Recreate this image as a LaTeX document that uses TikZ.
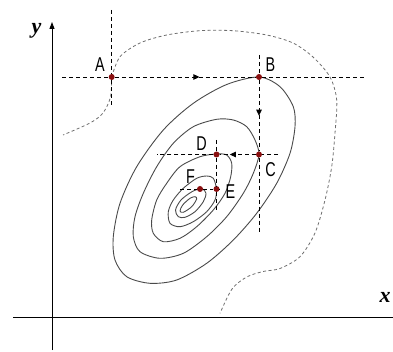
\documentclass[tikz,border=0pt]{standalone}
\usepackage{fontspec}
\setmainfont{Liberation Sans}
\newfontfamily\axisfont{Liberation Serif}
\usetikzlibrary{arrows.meta,decorations.markings}
\definecolor{ptred}{HTML}{8A0F0F}
\definecolor{level}{HTML}{4A4A4A}
\definecolor{muted}{HTML}{6E6E6E}
\newcommand{\ptname}[1]{\scalebox{.72}[1]{#1}}
\tikzset{>=Triangle,
  axis/.style={draw=black,line width=.9pt},
  guide/.style={draw=black,line width=.8pt,dash pattern=on 4pt off 3pt},
  contour/.style={draw=level,line width=.9pt},
  isoline/.style={draw=muted,line width=.8pt,dash pattern=on 3pt off 2.5pt},
  point/.style={circle,fill=ptred,inner sep=0pt,minimum size=6pt},
  ptlabel/.style={font=\fontsize{20}{20}\selectfont,inner sep=0pt},
  axlabel/.style={font=\axisfont\bfseries\itshape\fontsize{22}{22}\selectfont,inner sep=0pt},
  flow/.style={postaction={decorate},decoration={markings,
    mark=at position #1 with {\arrow{Triangle[length=6pt,width=5.5pt]}}}}}

\begin{document}
\begin{tikzpicture}[x=1pt,y=-1pt]
\useasboundingbox (0,0) rectangle (393,352);
% axes
\coordinate (o) at (52,317);
\coordinate (ytop) at (52,22);\coordinate (ybot) at (52,350);
\coordinate (xleft) at (13,317);\coordinate (xright) at (393,317);
\draw[axis,-{Triangle[length=7pt,width=5pt]}] (ybot)--(ytop);
\draw[axis] (xleft)--(xright);
\node[axlabel] (ylab) at (36.5,31) {y};
\node[axlabel] (xlab) at (385,297) {x};
% level sets
\draw[contour] plot[smooth cycle] coordinates {(259,77) (280,86.7) (293.3,106.7) (295,126.7)
  (290,153.3) (276.7,183.3) (256.7,213.3) (233.3,240) (206.7,263.3) (176.7,280) (150,283.3)
  (126.7,276.7) (115,260) (113.3,236.7) (120,203.3) (136.7,166.7) (163.3,130) (193.3,103.3)
  (226.7,84.5)};
\draw[contour] plot[smooth cycle] coordinates {(216.7,119.3) (233.3,120) (246.7,126.7) (255,140)
  (259,154.5) (253.3,173.3) (243.3,193.3) (226.7,216.7) (206.7,236.7) (183.3,253.3) (160,258.3)
  (140,251.7) (133.3,236.7) (135,216.7) (143.3,193.3) (156.7,166.7) (173.3,143.3) (193.3,126.7)};
\draw[contour] plot[smooth cycle] coordinates {(216.5,154) (226.7,155) (231.7,163.3) (230.7,176.7)
  (225,193.3) (213.3,210) (196.7,226.7) (180,238.3) (163.3,241.7) (153.3,233.3) (151.7,220)
  (156.7,200) (166.7,183.3) (180,166.7) (200,156.7)};
\draw[contour] plot[smooth cycle] coordinates {(206.7,176) (213.3,178.3) (216.5,189) (215,200)
  (206.7,211.7) (193.3,221.7) (180,226.7) (170,223.3) (168.3,211.7) (173.3,200) (183.3,188.3)
  (196.7,178.3)};
\draw[contour] plot[smooth cycle] coordinates {(201.7,188.5) (206,193.3) (203.3,201.7) (195,211.7)
  (185,217.3) (178.3,216.7) (175.5,210) (181,200) (192,191.7)};
\draw[contour] plot[smooth cycle] coordinates {(195,196.7) (196.7,199) (191.7,206.7) (183.3,212.3)
  (180,211) (182.7,205) (190,198.3)};
% level set through A
\coordinate (isoEnd) at (220,313.3);\coordinate (isoLow) at (63,135);
\draw[isoline] plot[smooth] coordinates {(111.7,77) (120,56.7) (140,43) (166.7,35) (200,30.7)
  (233,30.7) (266.7,35) (293,43) (313,57) (330,77) (336.7,100) (335,133) (331.7,166.7) (325,200)
  (315,233) (300,256.7) (280,268.5) (263,271.5) (246.7,277) (232,289) (isoEnd)};
\draw[isoline] plot[smooth] coordinates {(111.7,77) (110.5,97) (103,113) (90,123) (isoLow)};
% search path
\node[point] (A) at (111.7,77) {};
\node[point] (B) at (259,77) {};
\node[point] (C) at (259,154.5) {};
\node[point] (D) at (216.5,154.5) {};
\node[point] (E) at (216.5,189) {};
\node[point] (F) at (200,189) {};
\coordinate (aTop) at (111.7,10);\coordinate (aBot) at (111.7,107);
\coordinate (aLeft) at (62,77);\coordinate (bRight) at (367,77);
\coordinate (bTop) at (259,55);\coordinate (cBot) at (259,233);
\coordinate (cRight) at (278,154.5);\coordinate (dLeft) at (157,154.5);
\coordinate (dTop) at (216.5,140);\coordinate (dBot) at (216.5,213);
\coordinate (fLeft) at (180,189);\coordinate (eRight) at (219,189);
\draw[guide] (aTop)--(A);\draw[guide] (A)--(aBot);
\draw[guide] (aLeft)--(A);
\draw[guide,flow=.6] (A)--(B);
\draw[guide] (B)--(bRight);
\draw[guide] (bTop)--(B);
\draw[guide,flow=.5] (B)--(C);
\draw[guide] (C)--(cBot);
\draw[guide] (cRight)--(C);
\draw[guide,flow=.72] (C)--(D);
\draw[guide] (D)--(dLeft);
\draw[guide] (dTop)--(D);\draw[guide] (D)--(E);\draw[guide] (E)--(dBot);
\draw[guide] (fLeft)--(F);\draw[guide] (F)--(E);\draw[guide] (E)--(eRight);
\node[ptlabel] (Alab) at (100,65) {\ptname{A}};
\node[ptlabel] (Blab) at (270.5,64.5) {\ptname{B}};
\node[ptlabel] (Clab) at (270.5,169.5) {\ptname{C}};
\node[ptlabel] (Dlab) at (201.5,143.5) {\ptname{D}};
\node[ptlabel] (Elab) at (230.5,191.5) {\ptname{E}};
\node[ptlabel] (Flab) at (190.5,177) {\ptname{F}};
\end{tikzpicture}
\end{document}
